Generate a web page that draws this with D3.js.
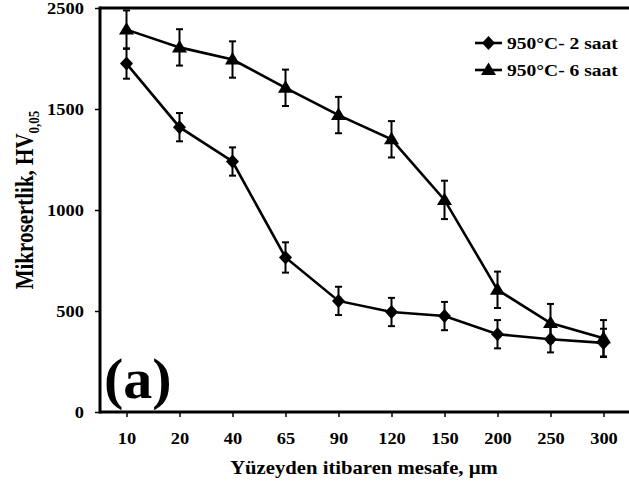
<!DOCTYPE html>
<html>
<head>
<meta charset="utf-8">
<script src="https://cdn.jsdelivr.net/npm/d3@7"></script>
<style>
  body { margin: 0; background: #fff; }
  text { font-family: "Liberation Serif", "Times New Roman", serif; font-weight: bold; fill: #000; }
</style>
</head>
<body>
<svg id="chart" width="629" height="490"></svg>
<script>
// data
const categories = ["10", "20", "40", "65", "90", "120", "150", "200", "250", "300"];
const saat2 = [1725, 1410, 1240, 765, 550, 495, 475, 385, 360, 342];
const saat2Err = [75, 70, 70, 75, 70, 70, 70, 70, 65, 70];
const saat6 = [1893, 1805, 1745, 1605, 1470, 1350, 1050, 605, 440, 365];
const saat6Err = [95, 90, 90, 90, 90, 90, 95, 90, 95, 90];
const yTicks = [0, 500, 1000, 1500, 2000];
const yTickLabels = ["0", "500", "1000", "1500", "2500"];
const seriesNames = ["950°C- 2 saat", "950°C- 6 saat"];

const stretch = 1.15; // the source picture is a bit wider than tall

let svg = d3.select('#chart');

const plotLeft = 100, plotRight = 630, plotTop = 8, plotBottom = 412;

let x = d3.scalePoint().domain(categories).range([plotLeft, plotRight]).padding(0.5);
let y = d3.scaleLinear().domain([0, 2000]).range([plotBottom, plotTop]);

const diamond = 'M0,-7L6.5,0L0,7L-6.5,0Z';
const triangle = 'M0,-7.5L7.5,5L-7.5,5Z';

// axes
let gx = svg.append('g')
    .attr('transform', `translate(0,${plotBottom})`)
    .call(d3.axisBottom(x).tickSize(5).tickPadding(10));
gx.attr('font-family', null);
gx.select('.domain').remove();
gx.selectAll('line').attr('stroke', '#000').attr('stroke-width', 1.5);
gx.selectAll('text')
    .attr('font-size', 16)
    .attr('transform', `scale(${stretch},1)`)
    .attr('dy', '1.05em');

let gy = svg.append('g')
    .attr('transform', `translate(${plotLeft},0)`)
    .call(d3.axisLeft(y).tickValues(yTicks).tickFormat((d, i) => yTickLabels[i]).tickSize(5).tickPadding(10));
gy.attr('font-family', null);
gy.select('.domain').remove();
gy.selectAll('line').attr('stroke', '#000').attr('stroke-width', 1.5);
gy.selectAll('text')
    .attr('font-size', 16)
    .attr('x', -14)
    .attr('transform', `scale(${stretch},1)`);

// frame: left, bottom, top
svg.append('line').attr('x1', plotLeft).attr('x2', plotLeft).attr('y1', plotTop - 1.5).attr('y2', plotBottom + 1.5)
    .attr('stroke', '#000').attr('stroke-width', 3);
svg.append('line').attr('x1', plotLeft).attr('x2', 629).attr('y1', plotBottom).attr('y2', plotBottom)
    .attr('stroke', '#000').attr('stroke-width', 3);
svg.append('line').attr('x1', plotLeft).attr('x2', 629).attr('y1', plotTop).attr('y2', plotTop)
    .attr('stroke', '#000').attr('stroke-width', 3);

// series
const series = [
    { name: seriesNames[1], values: saat6, err: saat6Err, shape: triangle },
    { name: seriesNames[0], values: saat2, err: saat2Err, shape: diamond }
];

let line = d3.line().x((d, i) => x(categories[i])).y(d => y(d));

series.forEach(s => {
    let g = svg.append('g');
    g.append('path')
        .attr('d', line(s.values))
        .attr('fill', 'none')
        .attr('stroke', '#000')
        .attr('stroke-width', 2.6);

    let eb = g.selectAll('.err')
        .data(s.values)
        .enter()
        .append('g')
        .attr('class', 'err')
        .attr('transform', (d, i) => `translate(${x(categories[i])},0)`);
    eb.append('line')
        .attr('y1', (d, i) => y(d + s.err[i]))
        .attr('y2', (d, i) => y(d - s.err[i]))
        .attr('stroke', '#000').attr('stroke-width', 2);
    eb.append('line')
        .attr('x1', -3.5).attr('x2', 3.5)
        .attr('y1', (d, i) => y(d + s.err[i]))
        .attr('y2', (d, i) => y(d + s.err[i]))
        .attr('stroke', '#000').attr('stroke-width', 2);
    eb.append('line')
        .attr('x1', -3.5).attr('x2', 3.5)
        .attr('y1', (d, i) => y(d - s.err[i]))
        .attr('y2', (d, i) => y(d - s.err[i]))
        .attr('stroke', '#000').attr('stroke-width', 2);

    g.selectAll('.mark')
        .data(s.values)
        .enter()
        .append('path')
        .attr('class', 'mark')
        .attr('d', s.shape)
        .attr('transform', (d, i) => `translate(${x(categories[i])},${y(d)})`)
        .attr('fill', '#000');
});

// legend
let legend = svg.append('g').attr('transform', 'translate(475,43)');
[diamond, triangle].forEach((shape, i) => {
    let row = legend.append('g').attr('transform', `translate(0,${i * 27})`);
    row.append('line').attr('x1', 0).attr('x2', 27).attr('stroke', '#000').attr('stroke-width', 2.6);
    row.append('path').attr('d', shape).attr('transform', 'translate(13.5,0)');
    row.append('text')
        .attr('transform', `translate(32,5.5) scale(${stretch},1)`)
        .attr('font-size', 17)
        .text(seriesNames[i]);
});

// axis titles
svg.append('text')
    .attr('transform', `translate(364,474) scale(${stretch},1)`)
    .attr('text-anchor', 'middle')
    .attr('font-size', 18)
    .text('Yüzeyden itibaren mesafe, µm');

let yt = svg.append('text')
    .attr('transform', `translate(33,200) rotate(-90) scale(1,${stretch})`)
    .attr('text-anchor', 'middle')
    .attr('font-size', 21);
yt.append('tspan').text('Mikrosertlik, HV');
yt.append('tspan').attr('font-size', 13).attr('dy', 5).text('0,05');

// panel label
svg.append('text')
    .attr('x', 104)
    .attr('y', 398)
    .attr('font-size', 58)
    .text('(a)');
</script>
</body>
</html>
